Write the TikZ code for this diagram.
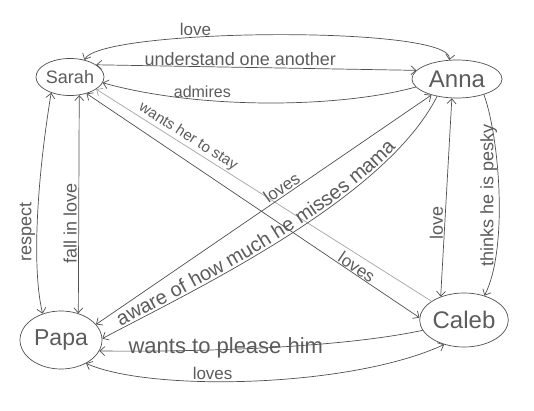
\documentclass[tikz,border=0pt]{standalone}
\usepackage{fontspec}
\setmainfont{Liberation Sans}
\usetikzlibrary{arrows.meta,shapes.geometric,decorations.text}
\definecolor{ink}{RGB}{80,80,80}
\definecolor{inktext}{RGB}{92,92,92}
\definecolor{faint}{RGB}{165,165,165}
\begin{document}
\begin{tikzpicture}[x=1pt,y=-1pt,
  person/.style={ellipse, draw=ink, line width=0.7pt, inner sep=0pt, text=inktext},
  rel/.style={draw=ink, line width=0.7pt, >={Straight Barb[length=5pt,width=9pt]}},
  lbl/.style={text=inktext, inner sep=1.5pt, font=\fontsize{#1}{#1}\selectfont},
  lbl/.default=17]
\fill[white] (0,0) rectangle (534,411);
\useasboundingbox (0,0) rectangle (534,411);

\node[person, minimum width=68pt, minimum height=37pt, font=\fontsize{18}{18}\selectfont] (Sarah) at (70,77) {Sarah};
\node[person, minimum width=90pt, minimum height=38pt, font=\fontsize{24}{24}\selectfont] (Anna) at (457,79) {Anna};
\node[person, minimum width=82pt, minimum height=58pt, font=\fontsize{23}{23}\selectfont] (Papa) at (61,340) {Papa};
\node[person, minimum width=88pt, minimum height=54pt, font=\fontsize{24}{24}\selectfont] (Caleb) at (464,320) {Caleb};

\draw[rel,<->] (Sarah.50) .. controls (100,28) and (455,25) .. (Anna.112) node[lbl, pos=0.35, anchor=south] (tLove) {love};
\draw[rel,<->] (Sarah.25) -- (Anna.168) node[lbl=18, pos=0.45, anchor=south] (tUnd) {understand one another};
\draw[rel,<-] (Sarah.350) .. controls (200,110) and (340,108) .. (Anna.191) node[lbl=16, pos=0.31, anchor=south] (tAdm) {admires};
\draw[rel,<-,draw=faint] (Sarah.335) -- (Caleb.150) node[lbl=15, pos=0.26, sloped, anchor=south] (tStay) {wants her to stay};
\draw[rel,<->] (Sarah.315) -- (Caleb.177) node[lbl, pos=0.8, sloped, anchor=south, inner sep=0.5pt] (tLovesSC) {loves};
\draw[rel,<->] (Papa.24) -- (Anna.212) node[lbl, pos=0.567, sloped, anchor=south] (tLovesPA) {loves};
\draw[rel,<-] (Papa.2) .. controls (190,292) and (385,200) .. (Anna.221);
\path[postaction={decorate}, decoration={text along path, text align={align=left, left indent=22pt}, raise=2.5pt,
  text={|\color{inktext}\fontsize{20}{20}\selectfont|aware of how much he misses mama}}]
  (Papa.2) .. controls (190,292) and (385,200) .. (Anna.221);
\draw[rel,<->] (Sarah.220) .. controls (40,160) and (30,260) .. (Papa.125) node[lbl=18, pos=0.6, rotate=90, anchor=south] (tResp) {respect};
\draw[rel,<->] (Sarah.297) -- (Papa.57) node[lbl=18, pos=0.59, rotate=90, anchor=south] (tFall) {fall in love};
\draw[rel,<->] (Anna.255) -- (Caleb.135) node[lbl=18, pos=0.63, rotate=90, anchor=south] (tLoveAC) {love};
\draw[rel,->] (Anna.330) .. controls (500,140) and (508,250) .. (Caleb.50) node[lbl=18, pos=0.5, rotate=90, anchor=south] (tPesky) {thinks he is pesky};
\draw[rel,<-] (Papa.344) .. controls (200,352) and (340,348) .. (Caleb.194) node[lbl=22, pos=0.38, anchor=base, yshift=-4pt] (tPlease) {wants to please him};
\draw[rel,<->] (Papa.317) .. controls (150,392) and (350,388) .. (Caleb.231) node[lbl, pos=0.4, anchor=south] (tLovesPC) {loves};
\end{tikzpicture}
\end{document}
